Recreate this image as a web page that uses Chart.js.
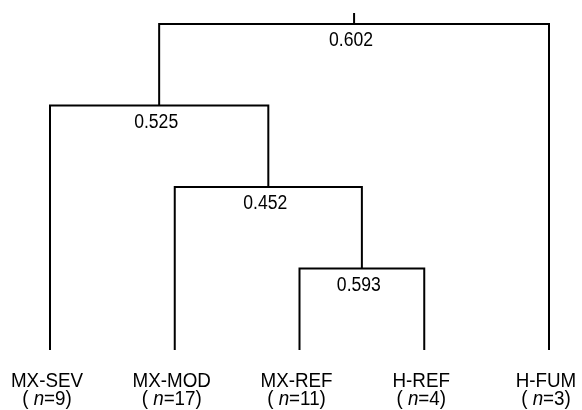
<!DOCTYPE html>
<html>
<head>
<meta charset="utf-8">
<script src="https://cdn.jsdelivr.net/npm/chart.js@4"></script>
<style>
  html, body { margin: 0; padding: 0; background: #fff; }
  #wrap { width: 582px; height: 410px; }
</style>
</head>
<body>
<div id="wrap"><canvas id="dendro"></canvas></div>
<script>
// leaves (left to right) and group sizes
const leaves = ["MX-SEV", "MX-MOD", "MX-REF", "H-REF", "H-FUM"];
const groupN = [9, 17, 11, 4, 3];

// merges: cluster ids 0-4 are leaves, each merge makes id 5, 6, ...
const mergeA = [2, 1, 0, 7];
const mergeB = [3, 5, 6, 4];
const mergeLevel = [1, 2, 3, 4];
const mergeLabel = ["0.593", "0.452", "0.525", "0.602"];

const FONT = "'Liberation Sans', Arial, Helvetica, sans-serif";

// work out x/height of each cluster
const nodeX = leaves.map((_, i) => i);
const nodeH = leaves.map(() => 0);
mergeA.forEach((a, k) => {
  nodeX.push((nodeX[a] + nodeX[mergeB[k]]) / 2);
  nodeH.push(mergeLevel[k]);
});

const datasets = mergeA.map((a, k) => {
  const b = mergeB[k];
  return {
    data: [
      { x: nodeX[a], y: nodeH[a] },
      { x: nodeX[a], y: mergeLevel[k] },
      { x: nodeX[b], y: mergeLevel[k] },
      { x: nodeX[b], y: nodeH[b] },
    ],
  };
});
// stub above the root
const root = nodeX.length - 1;
datasets.push({
  data: [
    { x: nodeX[root], y: nodeH[root] },
    { x: nodeX[root], y: nodeH[root] + 0.135 },
  ],
});
datasets.forEach((d) => {
  d.showLine = true;
  d.borderColor = "#000";
  d.borderWidth = 2;
  d.pointRadius = 0;
  d.clip = false;
  d.borderJoinStyle = "miter";
});

// draws a row of [text, font] pieces centred on x, squeezed sideways a bit
function drawRow(c, parts, x, y, squeeze) {
  let w = 0;
  parts.forEach((p) => { c.font = p[1]; w += c.measureText(p[0]).width; });
  c.save();
  c.translate(x, y);
  c.scale(squeeze, 1);
  let x0 = -w / 2;
  c.textAlign = "left";
  parts.forEach((p) => {
    c.font = p[1];
    c.fillText(p[0], x0, 0);
    x0 += c.measureText(p[0]).width;
  });
  c.restore();
}

const labelsPlugin = {
  id: "dendroLabels",
  afterDraw(chart) {
    const c = chart.ctx;
    const xs = chart.scales.x;
    const ys = chart.scales.y;
    const f = "20px " + FONT;
    const fi = "italic 20px " + FONT;
    c.save();
    c.fillStyle = "#000";
    c.textBaseline = "alphabetic";

    // node values under each bar
    mergeLabel.forEach((t, k) => {
      const id = leaves.length + k;
      drawRow(c, [[t, f]], xs.getPixelForValue(nodeX[id]) - 3, ys.getPixelForValue(nodeH[id]) + 22, 0.88);
    });

    // leaf names with (n=..)
    const base = ys.getPixelForValue(0);
    leaves.forEach((name, i) => {
      const px = xs.getPixelForValue(i) - 3;
      drawRow(c, [[name, f]], px, base + 37, 0.94);
      drawRow(c, [["( ", f], ["n", fi], ["=" + groupN[i] + ")", f]], px, base + 55, 0.94);
    });
    c.restore();
  },
};

new Chart(document.getElementById("dendro"), {
  type: "scatter",
  data: { datasets: datasets },
  options: {
    responsive: true,
    maintainAspectRatio: false,
    animation: false,
    layout: { padding: { left: 50, right: 33, top: 13, bottom: 60 } },
    plugins: { legend: { display: false }, tooltip: { enabled: false } },
    scales: {
      x: { type: "linear", min: 0, max: 4, display: false },
      y: { type: "linear", min: 0, max: 4.135, display: false },
    },
  },
  plugins: [labelsPlugin],
});
</script>
</body>
</html>
